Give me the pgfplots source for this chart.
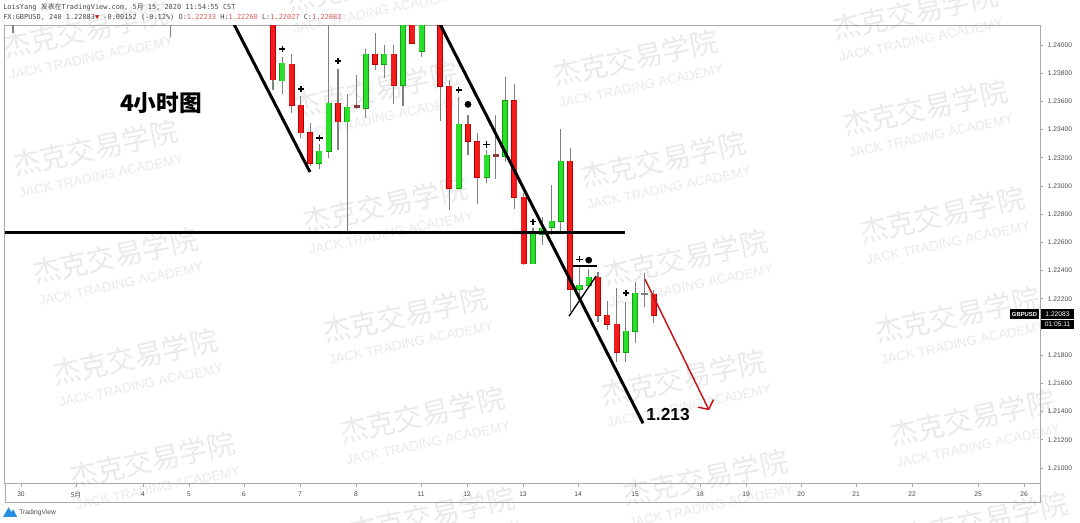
\documentclass[border=0pt]{standalone}
\usepackage{fontspec}
\setmainfont{Liberation Sans}
\newfontfamily\cjk{Noto Sans CJK SC}
\newfontfamily\monof{DejaVu Sans Mono}
\usepackage{pgfplots}
\pgfplotsset{compat=1.18}
\usepackage{pgfplotstable}
\usetikzlibrary{arrows.meta}

\definecolor{cRedF}{HTML}{F21C1C}
\definecolor{cRedE}{HTML}{B80000}
\definecolor{cGrnF}{HTML}{2BE02B}
\definecolor{cGrnE}{HTML}{12A012}
\definecolor{cWick}{HTML}{808080}
\definecolor{cDoji}{HTML}{8A3A3A}
\definecolor{cArrow}{HTML}{C41414}
\definecolor{cFrame}{HTML}{A8A8A8}
\definecolor{cTxt}{HTML}{4A4A4A}
\definecolor{cVal}{HTML}{E05A5A}
\definecolor{cWM}{HTML}{EAEAEA}
\definecolor{cTV}{HTML}{2A8FE0}

% 4h candles: k = candle index, o h l c = open high low close
\pgfplotstableread{
k o h l c
-28 1.24300 1.24400 1.24085 1.24250
0 1.24213 1.24248 1.23681 1.23752
2 1.23865 1.23936 1.23517 1.23574
3 1.23574 1.23638 1.23340 1.23376
4 1.23376 1.23446 1.23141 1.23163
7 1.23588 1.23830 1.23255 1.23454
11 1.23936 1.24085 1.23823 1.23865
13 1.23936 1.24000 1.23581 1.23716
15 1.24234 1.24284 1.24007 1.24014
18 1.24248 1.24305 1.23461 1.23709
19 1.23709 1.23752 1.22829 1.22985
21 1.23439 1.23503 1.23219 1.23319
22 1.23315 1.23376 1.22872 1.23063
26 1.23603 1.23723 1.22836 1.22921
27 1.22921 1.22950 1.22439 1.22449
32 1.23177 1.23269 1.22105 1.22268
35 1.22354 1.22389 1.22034 1.22084
36 1.22084 1.22183 1.21977 1.22020
37 1.22020 1.22275 1.21750 1.21821
41 1.22233 1.22260 1.22027 1.22083
}\redc

\pgfplotstableread{
k o h l c
-11 1.24250 1.24400 1.24057 1.24350
1 1.23745 1.23915 1.23652 1.23872
5 1.23163 1.23297 1.23120 1.23248
6 1.23248 1.24192 1.23198 1.23588
8 1.23454 1.23652 1.22666 1.23560
10 1.23553 1.23972 1.23482 1.23936
12 1.23865 1.24000 1.23766 1.23936
14 1.23716 1.24284 1.23567 1.24234
16 1.23957 1.24305 1.23915 1.24248
20 1.22985 1.23631 1.22978 1.23439
23 1.23063 1.23255 1.23021 1.23219
25 1.23212 1.23773 1.23170 1.23603
28 1.22449 1.22701 1.22446 1.22659
29 1.22659 1.22779 1.22581 1.22701
30 1.22708 1.23006 1.22652 1.22751
31 1.22751 1.23404 1.22666 1.23177
33 1.22268 1.22425 1.22190 1.22297
34 1.22297 1.22410 1.22275 1.22354
38 1.21821 1.22176 1.21750 1.21970
39 1.21970 1.22318 1.21885 1.22240
}\grnc

\pgfplotstableread{
k o h l c
9 1.23567 1.23787 1.23546 1.23556
24 1.23219 1.23503 1.23049 1.23212
}\dojic

\pgfplotstableread{
k o h l c
40 1.22240 1.22382 1.22141 1.22233
}\dojig

\newcommand{\wm}[2]{%
  \node[rotate=12, text=cWM, font=\cjk\fontsize{21}{21}\selectfont, inner sep=0] at (#1,#2) {杰克交易学院};%
  \node[rotate=12, text=cWM, font=\fontsize{10}{10}\selectfont, inner sep=0] at ({#1+6},{#2+28}) {JACK TRADING ACADEMY};%
}

\pgfplotsset{
  errbar/.style 2 args={draw=none, no markers,
    error bars/y dir=plus, error bars/y explicit, error bars/error mark=none,
    error bars/error bar style={draw=#1, line width=#2, line cap=butt}},
}

\begin{document}
\begin{tikzpicture}
\path[use as bounding box] (0,0) rectangle (810pt,392.25pt);
\fill[white] (0,0) rectangle (810pt,392.25pt);

% watermark
\begin{scope}[x=0.75pt,y=-0.75pt,yshift=392.25pt]
\wm{85}{30}
\wm{95}{148}
\wm{115}{256}
\wm{135}{357}
\wm{152}{460}
\wm{369}{-16}
\wm{375}{90}
\wm{385}{205}
\wm{405}{315}
\wm{422}{415}
\wm{432}{515}
\wm{635}{58}
\wm{663}{160}
\wm{685}{258}
\wm{683}{378}
\wm{705}{478}
\wm{915}{12}
\wm{925}{108}
\wm{942}{215}
\wm{957}{315}
\wm{972}{418}
\wm{985}{520}
\end{scope}

\begin{axis}[
  at={(3.75pt,29.25pt)}, anchor=south west,
  width=776.25pt, height=343.5pt, scale only axis,
  xmin=-28.86, xmax=82.6, ymin=1.208865, ymax=1.24135,
  axis line style={draw=cFrame, line width=0.75pt},
  xtick pos=bottom, ytick pos=right, yticklabel pos=right,
  tick align=outside, major tick length=2.4pt,
  tick style={draw=cFrame, line width=0.6pt},
  xtick={-27.14,-21.22,-14.00,-9.05,-3.12,2.91,8.94,15.94,20.89,26.92,32.85,38.99,45.99,50.94,56.87,62.79,68.82,75.93,80.88},
  xticklabels={30,{\cjk 5月},4,5,6,7,8,11,12,13,14,15,18,19,20,21,22,25,26},
  ytick={1.210,1.212,1.214,1.216,1.218,1.222,1.224,1.226,1.228,1.230,1.232,1.234,1.236,1.238,1.240},
  scaled y ticks=false,
  yticklabel style={font=\fontsize{5}{6}\selectfont, text=cTxt,
    /pgf/number format/fixed, /pgf/number format/fixed zerofill,
    /pgf/number format/precision=5, /pgf/number format/assume math mode=true},
  xticklabel style={font=\fontsize{5}{6}\selectfont, text=cTxt},
]
% wicks
\addplot[errbar={cWick}{0.8pt}] table[x=k, y=l, y error plus expr=\thisrow{h}-\thisrow{l}] {\redc};
\addplot[errbar={cWick}{0.8pt}] table[x=k, y=l, y error plus expr=\thisrow{h}-\thisrow{l}] {\grnc};
\addplot[errbar={cWick}{0.8pt}] table[x=k, y=l, y error plus expr=\thisrow{h}-\thisrow{l}] {\dojic};
\addplot[errbar={cWick}{0.8pt}] table[x=k, y=l, y error plus expr=\thisrow{h}-\thisrow{l}] {\dojig};
% bodies
\addplot[errbar={cRedE}{4.6pt}] table[x=k, y expr=\thisrow{c}-0.0000355, y error plus expr=\thisrow{o}-\thisrow{c}+0.000071] {\redc};
\addplot[errbar={cRedF}{3.5pt}] table[x=k, y=c, y error plus expr=\thisrow{o}-\thisrow{c}] {\redc};
\addplot[errbar={cGrnE}{4.6pt}] table[x=k, y expr=\thisrow{o}-0.0000355, y error plus expr=\thisrow{c}-\thisrow{o}+0.000071] {\grnc};
\addplot[errbar={cGrnF}{3.5pt}] table[x=k, y=o, y error plus expr=\thisrow{c}-\thisrow{o}] {\grnc};
\addplot[errbar={cDoji}{4.6pt}] table[x=k, y expr=\thisrow{c}-0.00005, y error plus expr=\thisrow{o}-\thisrow{c}+0.0001] {\dojic};
\addplot[errbar={cWick}{4.6pt}] table[x=k, y expr=\thisrow{c}-0.00003, y error plus expr=\thisrow{o}-\thisrow{c}+0.00006] {\dojig};

% drawn lines
\addplot[black, line width=2.25pt] coordinates {(-4.43,1.24177) (3.985,1.23099)};
\addplot[black, line width=2.25pt] coordinates {(17.76,1.24177) (39.85,1.21317)};
\addplot[black, line width=2pt] coordinates {(-29.5,1.22669) (37.91,1.22669)};
\addplot[black, line width=1pt] coordinates {(31.88,1.22077) (34.79,1.22361)};
\addplot[black, line width=1.1pt] coordinates {(32.31,1.22432) (34.90,1.22432)};
\addplot[cArrow, line width=1.1pt, -{Straight Barb[length=5pt,width=13pt]}] coordinates {(40.06,1.22339) (46.96,1.21410)};

% script marks
\addplot[only marks, mark=+, mark size=2.4pt, black, line width=1pt] coordinates {
(1,1.23972) (3,1.23688) (5,1.23340) (7,1.23886) (20,1.23681) (23,1.23295) (28,1.22746) (33,1.22481) (38,1.22242)};
\addplot[only marks, mark=*, mark size=2.3pt, black] coordinates {(21,1.23579) (34,1.22474)};
\end{axis}

% overlays in pixel coordinates
\begin{scope}[x=0.75pt,y=-0.75pt,yshift=392.25pt]
\draw[cFrame, line width=0.75pt] (5,484) -- (5,503) -- (1040,503) -- (1040,484);
% header
\node[anchor=west, inner sep=0, text=cTxt, font=\monof\fontsize{5.2}{6}\selectfont] at (3,7.5)
  {LoisYang {\cjk 发表在}TradingView.com, 5{\cjk 月} 15, 2020 11:54:55 CST};
\node[anchor=west, inner sep=0, text=cTxt, font=\monof\fontsize{5.2}{6}\selectfont] at (3,17.5)
  {FX:GBPUSD, 240 1.22083\textcolor{cArrow}{▼} -0.00152 (-0.12\%) O:\textcolor{cVal}{1.22233} H:\textcolor{cVal}{1.22260} L:\textcolor{cVal}{1.22027} C:\textcolor{cVal}{1.22083}};
% annotations
\node[font=\cjk\bfseries\fontsize{17}{17}\selectfont, inner sep=0] at (161,103) {4小时图};
\node[font=\bfseries\fontsize{13}{13}\selectfont, inner sep=0] at (668,415) {1.213};
% price labels
\fill[black] (1010,309.5) rectangle (1039,319.5);
\node[text=white, font=\bfseries\fontsize{4.4}{5}\selectfont, inner sep=0] at (1024.5,314.5) {GBPUSD};
\fill[black] (1041,309.5) rectangle (1074,319);
\node[text=white, font=\fontsize{5}{6}\selectfont, inner sep=0] at (1057.5,314.3) {1.22083};
\fill[black] (1041,319.8) rectangle (1074,329.5);
\node[text=white, font=\fontsize{5}{6}\selectfont, inner sep=0] at (1057.5,324.7) {01:05:11};
% TradingView logo
\fill[cTV] (3,517) -- (8.5,507.5) -- (11.5,512) -- (13.5,509.5) -- (17,517) -- cycle;
\node[anchor=west, inner sep=0, text=cTxt, font=\fontsize{5}{6}\selectfont] at (19,512.5) {TradingView};
\end{scope}
\end{tikzpicture}
\end{document}
